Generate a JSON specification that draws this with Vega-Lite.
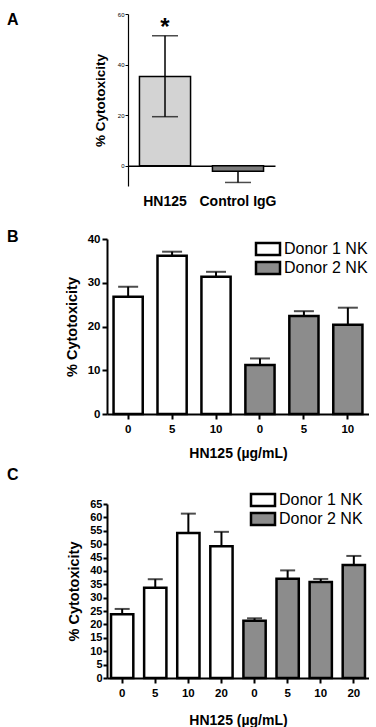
{
  "$schema": "https://vega.github.io/schema/vega-lite/v6.json",
  "padding": {"left": 7, "top": 11, "right": 0, "bottom": 0},
  "background": "white",
  "config": {
    "view": {"stroke": null},
    "axis": {"grid": false, "domainColor": "black", "tickColor": "black", "labelColor": "black", "titleColor": "black", "labelFont": "Liberation Sans", "titleFont": "Liberation Sans"},
    "title": {"font": "Liberation Sans", "fontWeight": "bold", "color": "black", "fontSize": 16, "offset": 0, "anchor": "start", "frame": "group"},
    "legend": {"title": null, "labelFont": "Liberation Sans", "labelFontSize": 16, "labelColor": "black", "symbolType": "M-2,-1H2V1H-2Z", "symbolSize": 144, "symbolStrokeColor": "black", "symbolStrokeWidth": 2.5, "symbolOpacity": 1, "labelOffset": 8, "padding": 0}
  },
  "spacing": 19,
  "resolve": {"scale": {"fill": "independent"}, "legend": {"fill": "independent"}},
  "vconcat": [
    {
      "width": 168,
      "height": 172,
      "title": {"text": "A", "dx": -100, "dy": 21},
      "data": {"values": [
        {"label": "HN125", "mean": 35.3, "lo": 19.4, "hi": 51.4, "star": "*"},
        {"label": "Control IgG", "mean": -2.2, "lo": -6.6, "hi": -2.2, "star": ""}
      ]},
      "layer": [
        {
          "mark": {"type": "bar", "stroke": "black", "strokeWidth": 1.5},
          "encoding": {
            "x": {"field": "label", "type": "nominal", "sort": null, "scale": {"range": [21, 168], "paddingInner": 0.3, "paddingOuter": 0.157},
                  "axis": {"title": null, "offset": -20.24, "domainWidth": 1.5, "ticks": false, "labelAngle": 0, "labelFontSize": 14, "labelFontWeight": "bold", "labelPadding": 29}},
            "y": {"field": "mean", "type": "quantitative", "scale": {"domain": [-8, 60], "nice": false, "zero": false},
                  "axis": {"values": [0, 20, 40, 60], "offset": -21, "title": "% Cytotoxicity", "titleFontSize": 13.5, "titleFontWeight": "bold", "titlePadding": 10, "labelFontSize": 6, "tickSize": 3, "labelPadding": 1, "domainWidth": 1.2, "tickWidth": 1}},
            "y2": {"datum": 0},
            "fill": {"condition": {"test": "datum.label == 'HN125'", "value": "#d3d3d3"}, "value": "#7d7d7d"}
          }
        },
        {
          "mark": {"type": "rule", "color": "black", "strokeWidth": 1.5},
          "encoding": {
            "x": {"field": "label", "type": "nominal", "sort": null},
            "y": {"field": "lo", "type": "quantitative"},
            "y2": {"field": "hi"}
          }
        },
        {
          "mark": {"type": "tick", "color": "black", "size": 26, "thickness": 1.5},
          "encoding": {
            "x": {"field": "label", "type": "nominal", "sort": null},
            "y": {"field": "lo", "type": "quantitative"}
          }
        },
        {
          "transform": [{"filter": "datum.label == 'HN125'"}],
          "mark": {"type": "tick", "color": "black", "size": 26, "thickness": 1.5},
          "encoding": {
            "x": {"field": "label", "type": "nominal", "sort": null},
            "y": {"field": "hi", "type": "quantitative"}
          }
        },
        {
          "transform": [{"filter": "datum.label == 'HN125'"}],
          "mark": {"type": "text", "font": "Liberation Sans", "fontWeight": "bold", "fontSize": 24, "baseline": "alphabetic", "dy": -1, "color": "black"},
          "encoding": {
            "x": {"field": "label", "type": "nominal", "sort": null},
            "y": {"field": "hi", "type": "quantitative"},
            "text": {"field": "star"}
          }
        }
      ]
    },
    {
      "spacing": 6,
      "resolve": {"scale": {"fill": "independent"}, "legend": {"fill": "independent"}},
      "vconcat": [
        {
          "width": 262,
          "height": 175,
          "title": {"text": "B", "dx": -100, "dy": 15.5},
          "data": {"values": [
            {"key": "D1|0", "donor": "Donor 1 NK", "mean": 26.8, "hi": 29.1},
            {"key": "D1|5", "donor": "Donor 1 NK", "mean": 36.2, "hi": 37.1},
            {"key": "D1|10", "donor": "Donor 1 NK", "mean": 31.4, "hi": 32.5},
            {"key": "D2|0", "donor": "Donor 2 NK", "mean": 11.2, "hi": 12.7},
            {"key": "D2|5", "donor": "Donor 2 NK", "mean": 22.4, "hi": 23.5},
            {"key": "D2|10", "donor": "Donor 2 NK", "mean": 20.4, "hi": 24.3}
          ]},
          "layer": [
            {
              "mark": {"type": "bar", "stroke": "black", "strokeWidth": 2.5},
              "encoding": {
                "x": {"field": "key", "type": "nominal", "sort": null, "scale": {"paddingInner": 0.336, "paddingOuter": 0.149},
                      "axis": {"title": "HN125 (µg/mL)", "titleFontSize": 14, "titleFontWeight": "bold", "titlePadding": 12, "labelExpr": "split(datum.label, '|')[1]", "labelAngle": 0, "labelFontSize": 11.5, "labelFontWeight": "bold", "labelPadding": 4, "tickSize": 5, "tickWidth": 2, "domainWidth": 2}},
                "y": {"field": "mean", "type": "quantitative", "scale": {"domain": [0, 40], "nice": false},
                      "axis": {"values": [0, 10, 20, 30, 40], "title": "% Cytotoxicity", "titleFontSize": 14.5, "titleFontWeight": "bold", "titlePadding": 8, "labelFontSize": 11.5, "labelFontWeight": "bold", "tickSize": 5, "tickWidth": 2, "labelPadding": 2, "domainWidth": 2}},
                "fill": {"field": "donor", "type": "nominal", "scale": {"domain": ["Donor 1 NK", "Donor 2 NK"], "range": ["white", "#8c8c8c"]},
                         "legend": {"orient": "none", "legendX": 153, "legendY": 2, "rowPadding": -7.3}}
              }
            },
            {
              "mark": {"type": "rule", "color": "black", "strokeWidth": 2},
              "encoding": {
                "x": {"field": "key", "type": "nominal", "sort": null},
                "y": {"field": "mean", "type": "quantitative"},
                "y2": {"field": "hi"}
              }
            },
            {
              "mark": {"type": "tick", "color": "black", "size": 20, "thickness": 2},
              "encoding": {
                "x": {"field": "key", "type": "nominal", "sort": null},
                "y": {"field": "hi", "type": "quantitative"}
              }
            }
          ]
        },
        {
          "width": 262,
          "height": 174,
          "title": {"text": "C", "dx": -100, "dy": -5},
          "data": {"values": [
            {"key": "D1|0", "donor": "Donor 1 NK", "mean": 23.8, "hi": 25.8},
            {"key": "D1|5", "donor": "Donor 1 NK", "mean": 33.7, "hi": 36.9},
            {"key": "D1|10", "donor": "Donor 1 NK", "mean": 54.2, "hi": 61.4},
            {"key": "D1|20", "donor": "Donor 1 NK", "mean": 49.2, "hi": 54.6},
            {"key": "D2|0", "donor": "Donor 2 NK", "mean": 21.4, "hi": 22.3},
            {"key": "D2|5", "donor": "Donor 2 NK", "mean": 37.1, "hi": 40.2},
            {"key": "D2|10", "donor": "Donor 2 NK", "mean": 35.9, "hi": 37.0},
            {"key": "D2|20", "donor": "Donor 2 NK", "mean": 42.2, "hi": 45.6}
          ]},
          "encoding": {
            "x": {"field": "key", "type": "nominal", "sort": null, "scale": {"paddingInner": 0.327, "paddingOuter": 0.122},
                  "axis": {"title": "HN125 (µg/mL)", "titleFontSize": 14, "titleFontWeight": "bold", "titlePadding": 15, "labelExpr": "split(datum.label, '|')[1]", "labelAngle": 0, "labelFontSize": 11.5, "labelFontWeight": "bold", "labelPadding": 4, "tickSize": 5, "tickWidth": 2, "domainWidth": 2}}
          },
          "layer": [
            {
              "mark": {"type": "bar", "stroke": "black", "strokeWidth": 2.5},
              "encoding": {
                "y": {"field": "mean", "type": "quantitative", "scale": {"domain": [0, 65], "nice": false},
                      "axis": {"values": [0, 5, 10, 15, 20, 25, 30, 35, 40, 45, 50, 55, 60, 65], "tickCount": 14, "labelOverlap": false, "title": "% Cytotoxicity", "titleFontSize": 14.5, "titleFontWeight": "bold", "titlePadding": 8, "labelFontSize": 11, "labelFontWeight": "bold", "tickSize": 4, "tickWidth": 2, "labelPadding": 1, "domainWidth": 2}},
                "fill": {"field": "donor", "type": "nominal", "scale": {"domain": ["Donor 1 NK", "Donor 2 NK"], "range": ["white", "#8c8c8c"]},
                         "legend": {"orient": "none", "legendX": 148, "legendY": -12, "rowPadding": -3}}
              }
            },
            {
              "mark": {"type": "rule", "color": "black", "strokeWidth": 2},
              "encoding": {
                "y": {"field": "mean", "type": "quantitative", "axis": {"values": [0, 5, 10, 15, 20, 25, 30, 35, 40, 45, 50, 55, 60, 65], "tickCount": 14, "labelOverlap": false}},
                "y2": {"field": "hi"}
              }
            },
            {
              "mark": {"type": "tick", "color": "black", "size": 15, "thickness": 2},
              "encoding": {
                "y": {"field": "hi", "type": "quantitative", "axis": {"values": [0, 5, 10, 15, 20, 25, 30, 35, 40, 45, 50, 55, 60, 65], "tickCount": 14, "labelOverlap": false}}
              }
            }
          ]
        }
      ]
    }
  ]
}
